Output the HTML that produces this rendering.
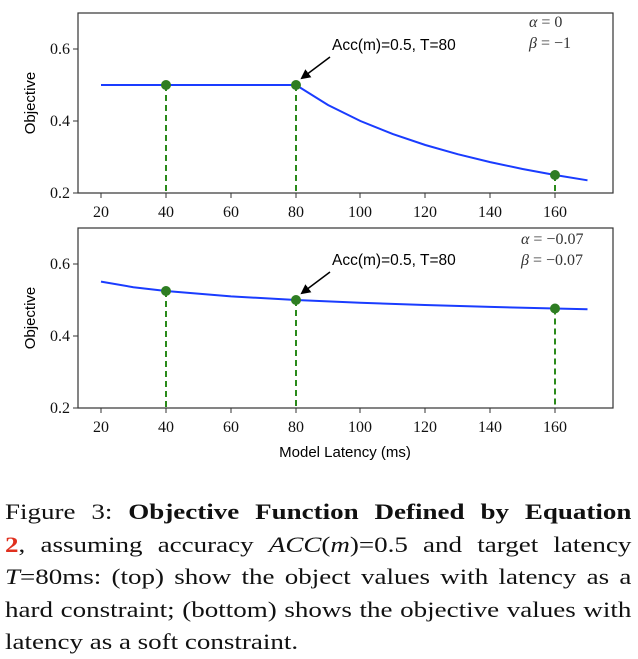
<!DOCTYPE html>
<html><head><style>
body{margin:0;background:#fff;width:638px;height:656px;overflow:hidden;position:relative}
svg{position:absolute;left:0;top:0}
.cap{position:absolute;left:5px;top:496px;width:522px;transform:scaleX(1.2);transform-origin:0 0;font-family:"Liberation Serif",serif;font-size:22.5px;line-height:32.5px;color:#111}
.cap div{text-align:justify;text-align-last:justify;white-space:nowrap}
.cap div.last{text-align-last:left}
</style></head><body>
<svg width="638" height="480" viewBox="0 0 638 480" font-family="Liberation Serif,serif">
<defs><marker id="ah" markerWidth="10" markerHeight="10" refX="8" refY="5" orient="auto" markerUnits="userSpaceOnUse"><path d="M0,0 L10,5 L0,10z" fill="#000"/></marker></defs>
<g>
<rect x="78" y="13" width="535" height="180" fill="none" stroke="#333" stroke-width="1.2"/>
<g stroke="#333"><line x1="73" y1="49" x2="78" y2="49"/><line x1="73" y1="121" x2="78" y2="121"/><line x1="73" y1="193" x2="78" y2="193"/></g>
<g font-size="16" text-anchor="end" fill="#111"><text x="70" y="54">0.6</text><text x="70" y="126">0.4</text><text x="70" y="198">0.2</text></g>
<g stroke="#333"><line x1="101" y1="193" x2="101" y2="198"/><line x1="166" y1="193" x2="166" y2="198"/><line x1="231" y1="193" x2="231" y2="198"/><line x1="296" y1="193" x2="296" y2="198"/><line x1="360" y1="193" x2="360" y2="198"/><line x1="425" y1="193" x2="425" y2="198"/><line x1="490" y1="193" x2="490" y2="198"/><line x1="555" y1="193" x2="555" y2="198"/></g>
<g font-size="16" text-anchor="middle" fill="#111"><text x="101" y="217">20</text><text x="166" y="217">40</text><text x="231" y="217">60</text><text x="296" y="217">80</text><text x="360" y="217">100</text><text x="425" y="217">120</text><text x="490" y="217">140</text><text x="555" y="217">160</text></g>
<text transform="translate(35,103) rotate(-90)" font-family="Liberation Sans,sans-serif" font-size="15" text-anchor="middle">Objective</text>
<g stroke="#2a8a1a" stroke-width="2" stroke-dasharray="6,4"><line x1="166" y1="85" x2="166" y2="193"/><line x1="296" y1="85" x2="296" y2="193"/><line x1="555" y1="175" x2="555" y2="193"/></g>
<polyline fill="none" stroke="#1a3cff" stroke-width="2" points="101,85 296,85 328,105 360.4,121 392.9,134.1 425.3,145 457.7,154.2 490.2,162.1 522.6,169 555,175 587.5,180.3"/>
<g fill="#2e7d22"><circle cx="166" cy="85" r="5"/><circle cx="296" cy="85" r="5"/><circle cx="555" cy="175" r="5"/></g>
<line x1="330" y1="57" x2="302" y2="78" stroke="#000" stroke-width="1.5" marker-end="url(#ah)"/>
<text x="332" y="50" font-family="Liberation Sans,sans-serif" font-size="15.5">Acc(m)=0.5, T=80</text>
<g font-size="16" font-style="italic" fill="#333"><text x="529" y="27">α <tspan font-style="normal">= 0</tspan></text><text x="529" y="48">β <tspan font-style="normal">= −1</tspan></text></g>
</g>
<g>
<rect x="78" y="228" width="535" height="180" fill="none" stroke="#333" stroke-width="1.2"/>
<g stroke="#333"><line x1="73" y1="264" x2="78" y2="264"/><line x1="73" y1="336" x2="78" y2="336"/><line x1="73" y1="408" x2="78" y2="408"/></g>
<g font-size="16" text-anchor="end" fill="#111"><text x="70" y="269">0.6</text><text x="70" y="341">0.4</text><text x="70" y="413">0.2</text></g>
<g stroke="#333"><line x1="101" y1="408" x2="101" y2="413"/><line x1="166" y1="408" x2="166" y2="413"/><line x1="231" y1="408" x2="231" y2="413"/><line x1="296" y1="408" x2="296" y2="413"/><line x1="360" y1="408" x2="360" y2="413"/><line x1="425" y1="408" x2="425" y2="413"/><line x1="490" y1="408" x2="490" y2="413"/><line x1="555" y1="408" x2="555" y2="413"/></g>
<g font-size="16" text-anchor="middle" fill="#111"><text x="101" y="432">20</text><text x="166" y="432">40</text><text x="231" y="432">60</text><text x="296" y="432">80</text><text x="360" y="432">100</text><text x="425" y="432">120</text><text x="490" y="432">140</text><text x="555" y="432">160</text></g>
<text transform="translate(35,318) rotate(-90)" font-family="Liberation Sans,sans-serif" font-size="15" text-anchor="middle">Objective</text>
<text x="345" y="457" font-family="Liberation Sans,sans-serif" font-size="15" text-anchor="middle">Model Latency (ms)</text>
<g stroke="#2a8a1a" stroke-width="2" stroke-dasharray="6,4"><line x1="166" y1="291" x2="166" y2="408"/><line x1="296" y1="300" x2="296" y2="408"/><line x1="555" y1="308.5" x2="555" y2="408"/></g>
<polyline fill="none" stroke="#1a3cff" stroke-width="2" points="101,281.6 133.4,287.2 166,291 231,296.4 296,300 360,302.8 425,305 490,306.9 555,308.5 587.5,309.2"/>
<g fill="#2e7d22"><circle cx="166" cy="291" r="5"/><circle cx="296" cy="300" r="5"/><circle cx="555" cy="308.5" r="5"/></g>
<line x1="330" y1="272" x2="302" y2="293" stroke="#000" stroke-width="1.5" marker-end="url(#ah)"/>
<text x="332" y="265" font-family="Liberation Sans,sans-serif" font-size="15.5">Acc(m)=0.5, T=80</text>
<g font-size="16" font-style="italic" fill="#333"><text x="521" y="244">α <tspan font-style="normal">= −0.07</tspan></text><text x="521" y="265">β <tspan font-style="normal">= −0.07</tspan></text></g>
</g>
</svg>
<div class="cap">
<div>Figure 3: <b>Objective Function Defined by Equation</b></div>
<div><b style="color:#e0301e">2</b>, assuming accuracy <i>ACC</i>(<i>m</i>)=0.5 and target latency</div>
<div><i>T</i>=80ms: (top) show the object values with latency as a</div>
<div>hard constraint; (bottom) shows the objective values with</div>
<div class="last">latency as a soft constraint.</div>
</div>
</body></html>
